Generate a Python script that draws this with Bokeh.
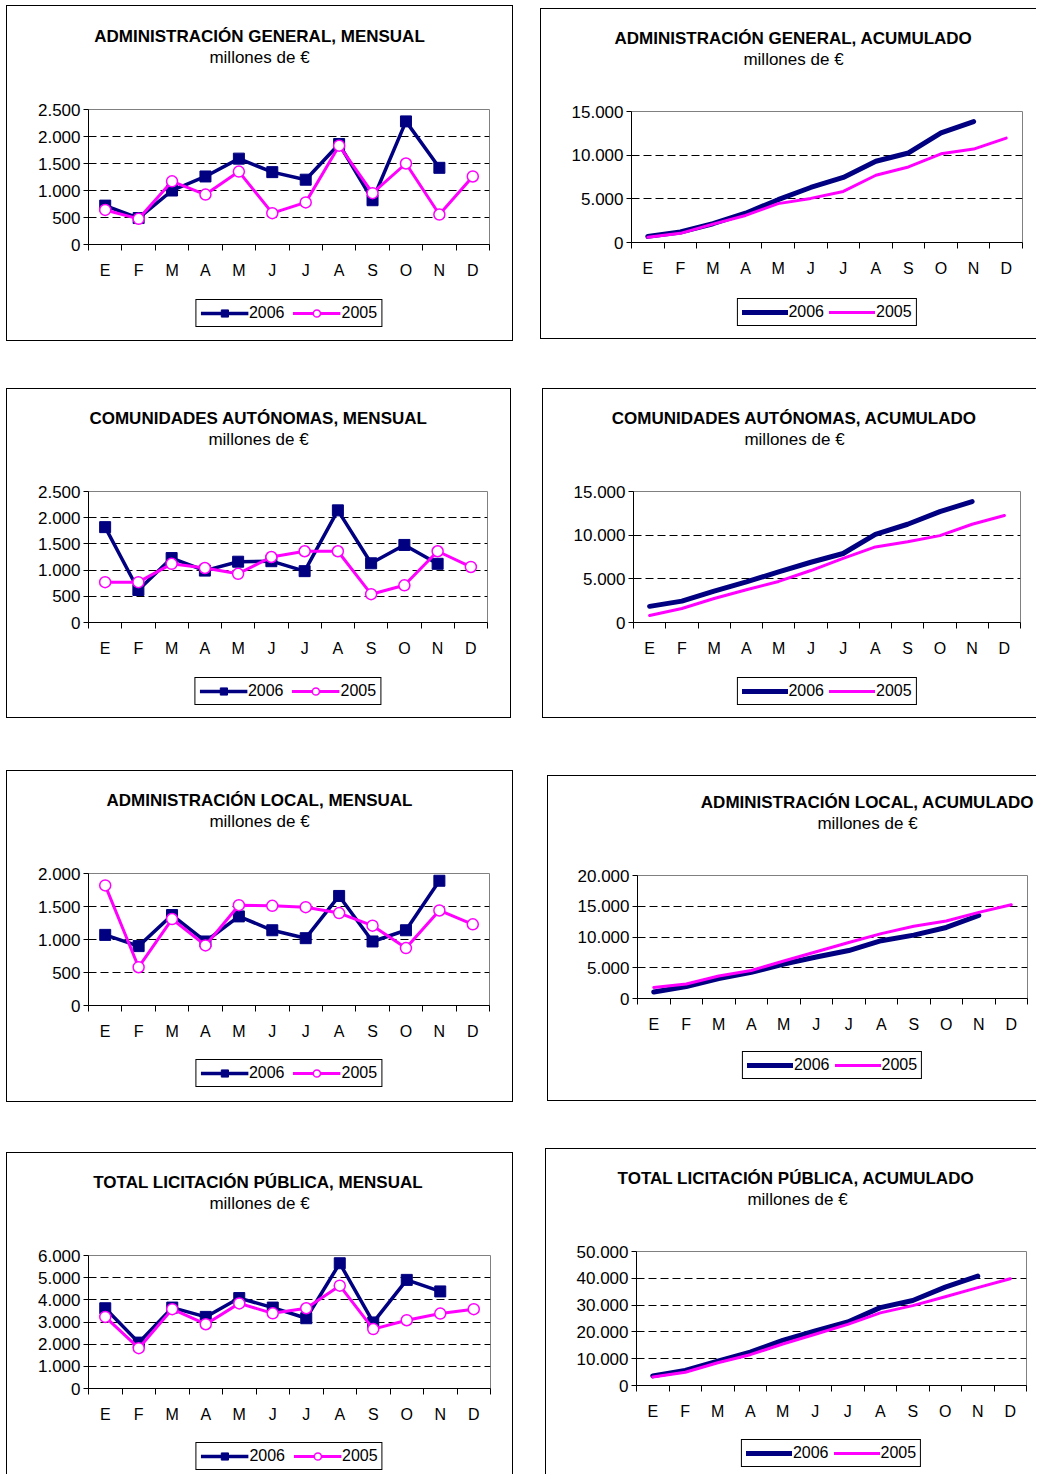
from bokeh.plotting import figure
from bokeh.models import Range1d, FixedTicker, Title, Spacer, Legend, LegendItem
from bokeh.layouts import row, column
from bokeh.embed import file_html
from bokeh.resources import INLINE

# ---------------- data ----------------
MONTHS = ["E", "F", "M", "A", "M", "J", "J", "A", "S", "O", "N", "D"]
SERIES_NAMES = ["2006", "2005"]
SUBTITLE = "millones de €"

ag_m_2006 = [720, 490, 1000, 1260, 1590, 1340, 1200, 1860, 820, 2280, 1420]
ag_m_2005 = [640, 475, 1170, 925, 1350, 580, 780, 1830, 950, 1500, 555, 1260]
ag_a_2006 = [700, 1200, 2150, 3350, 4900, 6300, 7450, 9300, 10250, 12550, 13850]
ag_a_2005 = [600, 1050, 2100, 3100, 4450, 5050, 5850, 7700, 8650, 10150, 10700, 11950]

cc_m_2006 = [1820, 620, 1230, 990, 1160, 1170, 980, 2140, 1130, 1480, 1120]
cc_m_2005 = [770, 770, 1120, 1040, 930, 1250, 1360, 1360, 540, 710, 1360, 1060]
cc_a_2006 = [1850, 2450, 3600, 4650, 5800, 6900, 7900, 10100, 11250, 12700, 13850]
cc_a_2005 = [800, 1600, 2750, 3750, 4700, 5950, 7350, 8650, 9250, 9950, 11250, 12250]

al_m_2006 = [1070, 900, 1370, 970, 1350, 1140, 1020, 1660, 970, 1140, 1890]
al_m_2005 = [1820, 580, 1310, 910, 1520, 1510, 1490, 1400, 1210, 870, 1440, 1230]
al_a_2006 = [1050, 1950, 3250, 4250, 5600, 6750, 7800, 9400, 10300, 11550, 13500]
al_a_2005 = [1800, 2350, 3650, 4550, 6100, 7600, 9100, 10550, 11750, 12600, 14000, 15250]

tl_m_2006 = [3620, 2070, 3650, 3230, 4080, 3650, 3170, 5650, 2980, 4900, 4380]
tl_m_2005 = [3230, 1820, 3580, 2900, 3840, 3390, 3620, 4640, 2680, 3080, 3380, 3580]
tl_a_2006 = [3600, 5650, 9100, 12450, 16800, 20400, 23700, 29050, 31700, 36700, 40800]
tl_a_2005 = [3200, 4950, 8500, 11500, 15500, 19100, 22800, 27100, 29800, 33100, 36500, 39850]

yt_2500 = [0, 500, 1000, 1500, 2000, 2500]
yl_2500 = ["0", "500", "1.000", "1.500", "2.000", "2.500"]
yt_2000 = [0, 500, 1000, 1500, 2000]
yl_2000 = ["0", "500", "1.000", "1.500", "2.000"]
yt_6000 = [0, 1000, 2000, 3000, 4000, 5000, 6000]
yl_6000 = ["0", "1.000", "2.000", "3.000", "4.000", "5.000", "6.000"]
yt_15000 = [0, 5000, 10000, 15000]
yl_15000 = ["0", "5.000", "10.000", "15.000"]
yt_20000 = [0, 5000, 10000, 15000, 20000]
yl_20000 = ["0", "5.000", "10.000", "15.000", "20.000"]
yt_50000 = [0, 10000, 20000, 30000, 40000, 50000]
yl_50000 = ["0", "10.000", "20.000", "30.000", "40.000", "50.000"]

# ---------------- style ----------------
NAVY = "#000080"
MAGENTA = "#FF00FF"
FONT = "Liberation Sans"
TXT = "#000000"
TITLE_PX = 17
SUB_PX = 17
AXIS_ROOM = 40          # px below the plot area kept in the chart figure

CENTERS = [i + 0.5 for i in range(len(MONTHS))]
BOUNDS = [i for i in range(len(MONTHS) + 1)]

# Arial / Liberation Sans advance widths (1/1000 em), used only to place titles
_BOLD = dict(A=722, B=722, C=722, D=722, E=667, F=611, G=778, H=722, I=278, J=556, K=722,
             L=611, M=833, N=722, O=778, P=667, Q=778, R=722, S=667, T=611, U=722, V=667,
             W=944, X=667, Y=667, Z=611)
_BOLD.update({" ": 278, ",": 278, "Ó": 778, "Ú": 722, "Á": 722, "É": 667, "Í": 278})
_REG = {"m": 833, "i": 222, "l": 222, "o": 556, "n": 556, "e": 556, "s": 500, "d": 556,
        " ": 278, "€": 556}


def text_w(s, table, px):
    return sum(table.get(c, 600) for c in s) * px / 1000.0


def bordered(fig, sides):
    st = {"box-sizing": "content-box"}
    for side in sides:
        st["border-" + side] = "1px solid #000"
    fig.styles = st


def draw_series(fig, monthly, x06, s06, x05, s05):
    if monthly:
        a1 = fig.line(x06, s06, line_color=NAVY, line_width=3.5)
        a2 = fig.scatter(x06, s06, marker="square", size=11, fill_color=NAVY, line_color=NAVY)
        b1 = fig.line(x05, s05, line_color=MAGENTA, line_width=3)
        b2 = fig.scatter(x05, s05, marker="circle", size=11, fill_color="white",
                         line_color=MAGENTA, line_width=1.5)
        return [a1, a2], [b1, b2]
    a1 = fig.line(x06, s06, line_color=NAVY, line_width=5, line_cap="round", line_join="round")
    b1 = fig.line(x05, s05, line_color=MAGENTA, line_width=3, line_cap="round",
                  line_join="round")
    return [a1], [b1]


def panel(title, monthly, s06, s05, yticks, ylabels, g):
    x0, x1, y0, y1 = g["box"]
    fl, fr, ft, fb = g["frame"]
    br, bb = g.get("br", True), g.get("bb", True)
    cl = x0 + 1
    cr = x1 - (1 if br else 0)
    ct = y0 + 1
    cb = y1 - (1 if bb else 0)
    w = cr - cl
    ml, mr = fl - cl, cr - fr
    split = fb + AXIS_ROOM
    x06 = CENTERS[:len(s06)]
    x05 = CENTERS[:len(s05)]

    # ---------- chart ----------
    p = figure(width=w, height=split - ct, output_backend="svg", toolbar_location=None,
               x_range=Range1d(0, 12), y_range=Range1d(0, yticks[-1]),
               min_border_left=ml, min_border_right=mr,
               min_border_top=ft - ct, min_border_bottom=AXIS_ROOM,
               background_fill_color="white", border_fill_color="white")
    bordered(p, ["left", "top"] + (["right"] if br else []))
    p.outline_line_color = "#808080"

    xa = p.xaxis[0]
    xa.ticker = FixedTicker(ticks=CENTERS, minor_ticks=BOUNDS)
    xa.major_label_overrides = {c: m for c, m in zip(CENTERS, MONTHS)}
    xa.major_tick_in = 0
    xa.major_tick_out = 0
    xa.major_tick_line_color = None
    xa.minor_tick_in = 0
    xa.minor_tick_out = 6
    xa.minor_tick_line_color = "#000"
    xa.axis_line_color = "#000"
    xa.major_label_standoff = 11
    xa.major_label_text_font = FONT
    xa.major_label_text_font_size = "16px"
    xa.major_label_text_color = TXT

    ya = p.yaxis[0]
    ya.ticker = FixedTicker(ticks=yticks)
    ya.major_label_overrides = {t: l for t, l in zip(yticks, ylabels)}
    ya.major_tick_in = 0
    ya.major_tick_out = 5
    ya.major_tick_line_color = "#000"
    ya.minor_tick_line_color = None
    ya.axis_line_color = "#000"
    ya.major_label_standoff = 3
    ya.major_label_text_font = FONT
    ya.major_label_text_font_size = "17px"
    ya.major_label_text_color = TXT

    p.xgrid.visible = False
    p.ygrid.ticker = FixedTicker(ticks=yticks[1:-1])
    p.ygrid.grid_line_color = "#000"
    p.ygrid.grid_line_dash = "8 4"

    draw_series(p, monthly, x06, s06, x05, s05)

    # titles (closest to the plot first): blank spacer, subtitle, title
    cx = g["tc"]
    p.add_layout(Title(text=" ", text_font_size="2px", standoff=39), "above")
    p.add_layout(Title(text=SUBTITLE, align="left", standoff=0,
                       offset=cx - text_w(SUBTITLE, _REG, SUB_PX) / 2 - fl,
                       text_font=FONT, text_font_size=f"{SUB_PX}px", text_font_style="normal",
                       text_color=TXT), "above")
    p.add_layout(Title(text=title, align="left", standoff=0,
                       offset=cx - text_w(title, _BOLD, TITLE_PX) / 2 - fl,
                       text_font=FONT, text_font_size=f"{TITLE_PX}px", text_font_style="bold",
                       text_color=TXT), "above")

    # ---------- legend strip (same series, drawn outside its visible range) ----------
    q = figure(width=w, height=cb - split, output_backend="svg", toolbar_location=None,
               x_range=Range1d(-30, -20), y_range=Range1d(-30, -20),
               x_axis_type=None, y_axis_type=None,
               min_border_left=ml, min_border_right=mr, min_border_top=0, min_border_bottom=0,
               background_fill_color="white", border_fill_color="white",
               outline_line_color=None)
    bordered(q, ["left"] + (["right"] if br else []) + (["bottom"] if bb else []))
    q.xgrid.visible = False
    q.ygrid.visible = False
    r06, r05 = draw_series(q, monthly, x06, s06, x05, s05)
    items = [LegendItem(label=SERIES_NAMES[0], renderers=r06),
             LegendItem(label=SERIES_NAMES[1], renderers=r05)]
    lg = Legend(items=items, location="top_center", orientation="horizontal",
                border_line_color="#000", border_line_width=1, border_line_alpha=1,
                background_fill_color="white", background_fill_alpha=1,
                label_text_font=FONT, label_text_font_size="16px", label_text_color=TXT,
                glyph_width=48 if monthly else 46, glyph_height=18, label_standoff=1,
                spacing=8 if monthly else 5, padding=4, margin=g["lt"] - AXIS_ROOM)
    q.add_layout(lg, "center")
    return column(p, q)


p1 = panel("ADMINISTRACIÓN GENERAL, MENSUAL", True, ag_m_2006, ag_m_2005, yt_2500, yl_2500,
           dict(box=(6, 513, 5, 341), frame=(88, 487, 109, 243), tc=259, lt=56))
p3 = panel("COMUNIDADES AUTÓNOMAS, MENSUAL", True, cc_m_2006, cc_m_2005, yt_2500, yl_2500,
           dict(box=(6, 511, 388, 718), frame=(88, 485, 491, 621), tc=258, lt=56))
p5 = panel("ADMINISTRACIÓN LOCAL, MENSUAL", True, al_m_2006, al_m_2005, yt_2000, yl_2000,
           dict(box=(6, 513, 770, 1102), frame=(88, 487, 873, 1004), tc=259, lt=55))
p7 = panel("TOTAL LICITACIÓN PÚBLICA, MENSUAL", True, tl_m_2006, tl_m_2005, yt_6000, yl_6000,
           dict(box=(6, 513, 1152, 1474), frame=(88, 488, 1255, 1387), tc=259, lt=55, bb=False))

p2 = panel("ADMINISTRACIÓN GENERAL, ACUMULADO", False, ag_a_2006, ag_a_2005, yt_15000, yl_15000,
           dict(box=(540, 1036, 8, 339), frame=(631, 1021, 111, 241), tc=793, lt=57, br=False))
p4 = panel("COMUNIDADES AUTÓNOMAS, ACUMULADO", False, cc_a_2006, cc_a_2005, yt_15000, yl_15000,
           dict(box=(542, 1036, 388, 718), frame=(633, 1019, 491, 621), tc=794, lt=56, br=False))
p6 = panel("ADMINISTRACIÓN LOCAL, ACUMULADO", False, al_a_2006, al_a_2005, yt_20000, yl_20000,
           dict(box=(547, 1036, 775, 1101), frame=(637, 1026, 875, 997), tc=867, lt=54, br=False))
p8 = panel("TOTAL LICITACIÓN PÚBLICA, ACUMULADO", False, tl_a_2006, tl_a_2005, yt_50000, yl_50000,
           dict(box=(545, 1036, 1148, 1474), frame=(636, 1025, 1251, 1384), tc=797, lt=55,
                br=False, bb=False))

left = column(Spacer(height=5), p1, Spacer(height=47), p3, Spacer(height=52), p5,
              Spacer(height=50), p7)
right = column(Spacer(height=8), p2, Spacer(height=49),
               row(Spacer(width=2), p4), Spacer(height=57),
               row(Spacer(width=7), p6), Spacer(height=47),
               row(Spacer(width=5), p8))
root = row(Spacer(width=6), left, Spacer(width=27), right)

open("out.html", "w").write(file_html(root, INLINE))
